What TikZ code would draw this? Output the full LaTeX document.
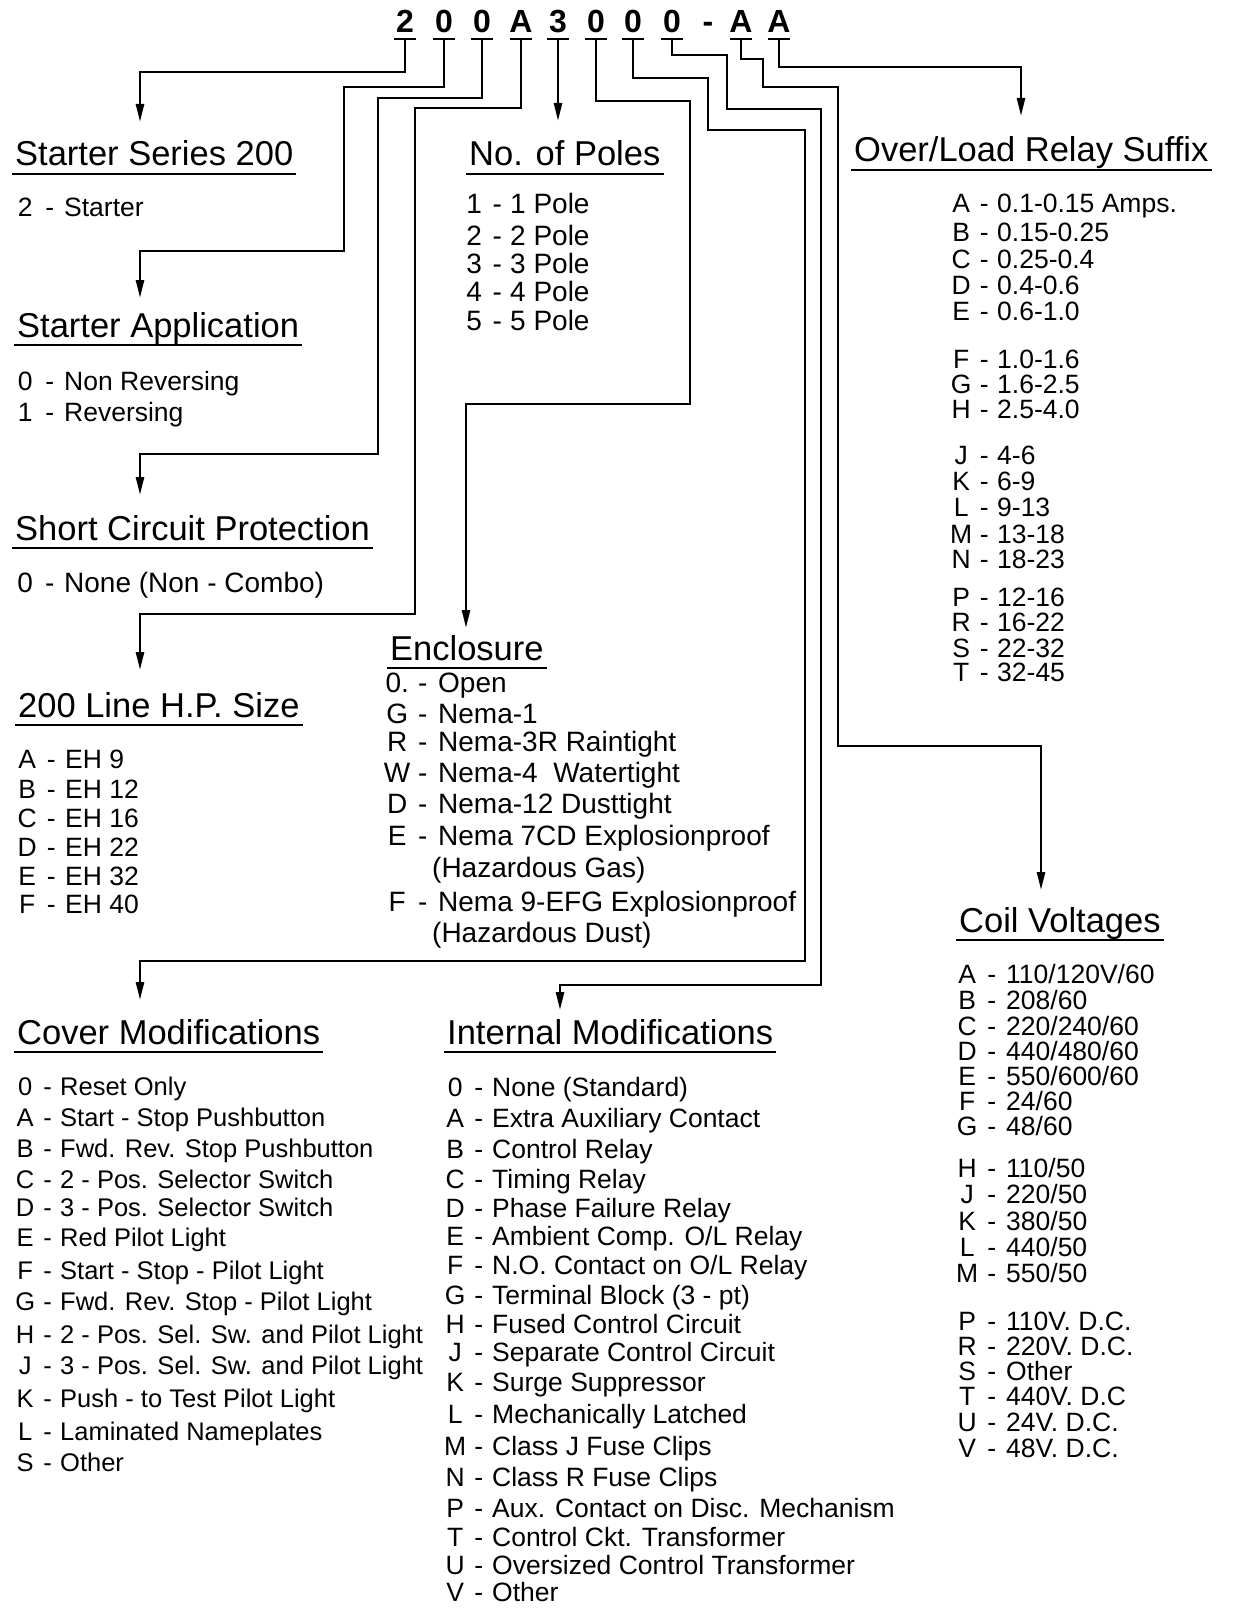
\documentclass[tikz,border=0pt]{standalone}
\usepackage{fontspec}
\setmainfont{Liberation Sans}
\usetikzlibrary{arrows.meta}
\newcommand\kv[3]{\makebox[20pt][c]{#1}\makebox[#2][c]{-}#3}
\newcommand\ttlline[1]{\draw[uline] ([shift={(-3,8)}]#1.base west) -- ([shift={(3,8)}]#1.base east);}
\tikzset{
 ttl/.style={anchor=base west,inner sep=0pt,font=\fontsize{34.5}{40}\selectfont},
 itm/.style={anchor=base west,inner sep=0pt,font=\fontsize{26.5}{30}\selectfont},
 itmc/.style={anchor=base west,inner sep=0pt,font=\fontsize{25.5}{30}\selectfont},
 itmv/.style={anchor=base west,inner sep=0pt,font=\fontsize{26.5}{30}\selectfont},
 itmw/.style={anchor=base west,inner sep=0pt,font=\fontsize{28}{30}\selectfont},
 codech/.style={anchor=base,inner sep=0pt,font=\fontsize{32}{34}\selectfont\bfseries},
 conn/.style={line width=2.5pt},
 arr/.style={conn,-{Triangle[length=18pt,width=8pt]}},
 uline/.style={line width=2.2pt},
 codebar/.style={line width=2.5pt}
}
\begin{document}
\begin{tikzpicture}[x=1pt,y=-1pt]
\fill[white] (0,0) rectangle (1233,1608);
\useasboundingbox (0,0) rectangle (1233,1608);

% ---------- code ----------
\node[codech] (c1) at (405,33) {2};
\node[codech] (c2) at (444,33) {0};
\node[codech] (c3) at (482,33) {0};
\node[codech] (c4) at (521,33) {A};
\node[codech] (c5) at (558,33) {3};
\node[codech] (c6) at (596,33) {0};
\node[codech] (c7) at (633,33) {0};
\node[codech] (c8) at (672,33) {0};
\node[codech] (c9) at (708,33) {-};
\node[codech] (c10) at (741,33) {A};
\node[codech] (c11) at (779,33) {A};
\coordinate (u1) at (405,39);
\coordinate (u2) at (444,39);
\coordinate (u3) at (482,39);
\coordinate (u4) at (521,39);
\coordinate (u5) at (558,39);
\coordinate (u6) at (596,39);
\coordinate (u7) at (633,39);
\coordinate (u8) at (672,39);
\coordinate (u10) at (741,39);
\coordinate (u11) at (779,39);
\foreach \n in {1,2,3,4,5,6,7,8,10,11}
  \draw[codebar] ([xshift=-11pt]u\n) -- ([xshift=11pt]u\n);

% ---------- titles ----------
\node[ttl] (tss) at (15,166) {Starter Series 200};
\node[ttl] (tsa) at (17,337) {Starter Application};
\node[ttl] (tsc) at (15,540) {Short Circuit Protection};
\node[ttl] (thp) at (18,717) {200 Line H.P. Size};
\node[ttl] (tnp) at (469,166) {No. of Poles};
\node[ttl] (tol) at (854,162) {Over/Load Relay Suffix};
\node[ttl] (ten) at (390,660) {Enclosure};
\node[ttl] (tcv) at (959,932) {Coil Voltages};
\node[ttl] (tcm) at (17,1044) {Cover Modifications};
\node[ttl] (tim) at (447,1044) {Internal Modifications};
\ttlline{tss}\ttlline{tsa}\ttlline{tsc}\ttlline{thp}\ttlline{tnp}
\ttlline{tol}\ttlline{ten}\ttlline{tcv}\ttlline{tcm}\ttlline{tim}

% ---------- items ----------
\node[itm] (ss1) at (15,216) {\kv{2}{29pt}{Starter}};

\node[itm] (sa1) at (15,390) {\kv{0}{29pt}{Non Reversing}};
\node[itm] (sa2) at (15,421) {\kv{1}{29pt}{Reversing}};

\node[itmw] (sc1) at (15,592) {\kv{0}{29pt}{None (Non - Combo)}};

\node[itm] (hp1) at (17,768) {\kv{A}{28pt}{EH 9}};
\node[itm] (hp2) at (17,798) {\kv{B}{28pt}{EH 12}};
\node[itm] (hp3) at (17,827) {\kv{C}{28pt}{EH 16}};
\node[itm] (hp4) at (17,856) {\kv{D}{28pt}{EH 22}};
\node[itm] (hp5) at (17,885) {\kv{E}{28pt}{EH 32}};
\node[itm] (hp6) at (17,913) {\kv{F}{28pt}{EH 40}};

\node[itmw] (np1) at (464,214) {\kv{1}{26pt}{1 Pole}};
\node[itmw] (np2) at (464,245) {\kv{2}{26pt}{2 Pole}};
\node[itmw] (np3) at (464,273) {\kv{3}{26pt}{3 Pole}};
\node[itmw] (np4) at (464,301) {\kv{4}{26pt}{4 Pole}};
\node[itmw] (np5) at (464,330) {\kv{5}{26pt}{5 Pole}};

\node[itm] (ol1) at (951,212) {\kv{A}{26pt}{0.1-0.15 Amps.}};
\node[itm] (ol2) at (951,241) {\kv{B}{26pt}{0.15-0.25}};
\node[itm] (ol3) at (951,268) {\kv{C}{26pt}{0.25-0.4}};
\node[itm] (ol4) at (951,294) {\kv{D}{26pt}{0.4-0.6}};
\node[itm] (ol5) at (951,320) {\kv{E}{26pt}{0.6-1.0}};
\node[itm] (ol6) at (951,368) {\kv{F}{26pt}{1.0-1.6}};
\node[itm] (ol7) at (951,393) {\kv{G}{26pt}{1.6-2.5}};
\node[itm] (ol8) at (951,418) {\kv{H}{26pt}{2.5-4.0}};
\node[itm] (ol9) at (951,464) {\kv{J}{26pt}{4-6}};
\node[itm] (ol10) at (951,490) {\kv{K}{26pt}{6-9}};
\node[itm] (ol11) at (951,516) {\kv{L}{26pt}{9-13}};
\node[itm] (ol12) at (951,543) {\kv{M}{26pt}{13-18}};
\node[itm] (ol13) at (951,568) {\kv{N}{26pt}{18-23}};
\node[itm] (ol14) at (951,606) {\kv{P}{26pt}{12-16}};
\node[itm] (ol15) at (951,631) {\kv{R}{26pt}{16-22}};
\node[itm] (ol16) at (951,657) {\kv{S}{26pt}{22-32}};
\node[itm] (ol17) at (951,681) {\kv{T}{26pt}{32-45}};

\node[itmw] (en1) at (387,692) {\kv{0.}{31pt}{Open}};
\node[itmw] (en2) at (387,723) {\kv{G}{31pt}{Nema-1}};
\node[itmw] (en3) at (387,751) {\kv{R}{31pt}{Nema-3R Raintight}};
\node[itmw] (en4) at (387,782) {\kv{W}{31pt}{Nema-4\ \ Watertight}};
\node[itmw] (en5) at (387,813) {\kv{D}{31pt}{Nema-12 Dusttight}};
\node[itmw] (en6) at (387,845) {\kv{E}{31pt}{Nema 7CD Explosionproof}};
\node[itmw] (en7) at (432,877) {(Hazardous Gas)};
\node[itmw] (en8) at (387,911) {\kv{F}{31pt}{Nema 9-EFG Explosionproof}};
\node[itmw] (en9) at (432,942) {(Hazardous Dust)};

\node[itmv] (cv1) at (957,983) {\kv{A}{29pt}{110/120V/60}};
\node[itmv] (cv2) at (957,1009) {\kv{B}{29pt}{208/60}};
\node[itmv] (cv3) at (957,1035) {\kv{C}{29pt}{220/240/60}};
\node[itmv] (cv4) at (957,1060) {\kv{D}{29pt}{440/480/60}};
\node[itmv] (cv5) at (957,1085) {\kv{E}{29pt}{550/600/60}};
\node[itmv] (cv6) at (957,1110) {\kv{F}{29pt}{24/60}};
\node[itmv] (cv7) at (957,1135) {\kv{G}{29pt}{48/60}};
\node[itmv] (cv8) at (957,1177) {\kv{H}{29pt}{110/50}};
\node[itmv] (cv9) at (957,1203) {\kv{J}{29pt}{220/50}};
\node[itmv] (cv10) at (957,1230) {\kv{K}{29pt}{380/50}};
\node[itmv] (cv11) at (957,1256) {\kv{L}{29pt}{440/50}};
\node[itmv] (cv12) at (957,1282) {\kv{M}{29pt}{550/50}};
\node[itmv] (cv13) at (957,1330) {\kv{P}{29pt}{110V. D.C.}};
\node[itmv] (cv14) at (957,1355) {\kv{R}{29pt}{220V. D.C.}};
\node[itmv] (cv15) at (957,1380) {\kv{S}{29pt}{Other}};
\node[itmv] (cv16) at (957,1405) {\kv{T}{29pt}{440V. D.C}};
\node[itmv] (cv17) at (957,1431) {\kv{U}{29pt}{24V. D.C.}};
\node[itmv] (cv18) at (957,1457) {\kv{V}{29pt}{48V. D.C.}};

\node[itmc] (cm1) at (15,1095) {\kv{0}{25pt}{Reset Only}};
\node[itmc] (cm2) at (15,1126) {\kv{A}{25pt}{Start - Stop Pushbutton}};
\node[itmc] (cm3) at (15,1157) {\kv{B}{25pt}{Fwd. Rev. Stop Pushbutton}};
\node[itmc] (cm4) at (15,1188) {\kv{C}{25pt}{2 - Pos. Selector Switch}};
\node[itmc] (cm5) at (15,1216) {\kv{D}{25pt}{3 - Pos. Selector Switch}};
\node[itmc] (cm6) at (15,1246) {\kv{E}{25pt}{Red Pilot Light}};
\node[itmc] (cm7) at (15,1279) {\kv{F}{25pt}{Start - Stop - Pilot Light}};
\node[itmc] (cm8) at (15,1310) {\kv{G}{25pt}{Fwd. Rev. Stop - Pilot Light}};
\node[itmc] (cm9) at (15,1343) {\kv{H}{25pt}{2 - Pos. Sel. Sw. and Pilot Light}};
\node[itmc] (cm10) at (15,1374) {\kv{J}{25pt}{3 - Pos. Sel. Sw. and Pilot Light}};
\node[itmc] (cm11) at (15,1407) {\kv{K}{25pt}{Push - to Test Pilot Light}};
\node[itmc] (cm12) at (15,1440) {\kv{L}{25pt}{Laminated Nameplates}};
\node[itmc] (cm13) at (15,1471) {\kv{S}{25pt}{Other}};

\node[itm] (im1) at (445,1096) {\kv{0}{27pt}{None (Standard)}};
\node[itm] (im2) at (445,1127) {\kv{A}{27pt}{Extra Auxiliary Contact}};
\node[itm] (im3) at (445,1158) {\kv{B}{27pt}{Control Relay}};
\node[itm] (im4) at (445,1188) {\kv{C}{27pt}{Timing Relay}};
\node[itm] (im5) at (445,1217) {\kv{D}{27pt}{Phase Failure Relay}};
\node[itm] (im6) at (445,1245) {\kv{E}{27pt}{Ambient Comp. O/L Relay}};
\node[itm] (im7) at (445,1274) {\kv{F}{27pt}{N.O. Contact on O/L Relay}};
\node[itm] (im8) at (445,1304) {\kv{G}{27pt}{Terminal Block (3 - pt)}};
\node[itm] (im9) at (445,1333) {\kv{H}{27pt}{Fused Control Circuit}};
\node[itm] (im10) at (445,1361) {\kv{J}{27pt}{Separate Control Circuit}};
\node[itm] (im11) at (445,1391) {\kv{K}{27pt}{Surge Suppressor}};
\node[itm] (im12) at (445,1423) {\kv{L}{27pt}{Mechanically Latched}};
\node[itm] (im13) at (445,1455) {\kv{M}{27pt}{Class J Fuse Clips}};
\node[itm] (im14) at (445,1486) {\kv{N}{27pt}{Class R Fuse Clips}};
\node[itm] (im15) at (445,1517) {\kv{P}{27pt}{Aux. Contact on Disc. Mechanism}};
\node[itm] (im16) at (445,1546) {\kv{T}{27pt}{Control Ckt. Transformer}};
\node[itm] (im17) at (445,1574) {\kv{U}{27pt}{Oversized Control Transformer}};
\node[itm] (im18) at (445,1601) {\kv{V}{27pt}{Other}};

% ---------- arrow tips ----------
\coordinate (k1) at (140,122);
\coordinate (k2) at (140,298);
\coordinate (k3) at (140,495);
\coordinate (k4) at (140,670);
\coordinate (k5) at (558,121);
\coordinate (k6) at (466,628);
\coordinate (k7) at (140,1000);
\coordinate (k8) at (560,1010);
\coordinate (k10) at (1041,890);
\coordinate (k11) at (1021,116);

% ---------- connectors ----------
\draw[arr] (u1) -- (405,72) -- (140,72) -- (k1);
\draw[arr] (u2) -- (444,87) -- (344,87) -- (344,251) -- (140,251) -- (k2);
\draw[arr] (u3) -- (482,98) -- (378,98) -- (378,454) -- (140,454) -- (k3);
\draw[arr] (u4) -- (521,108) -- (415,108) -- (415,614) -- (140,614) -- (k4);
\draw[arr] (u5) -- (k5);
\draw[arr] (u6) -- (596,101) -- (690,101) -- (690,404) -- (466,404) -- (k6);
\draw[arr] (u7) -- (633,78) -- (708,78) -- (708,130) -- (805,130) -- (805,961) -- (140,961) -- (k7);
\draw[arr] (u8) -- (672,55) -- (727,55) -- (727,109) -- (821,109) -- (821,985) -- (560,985) -- (k8);
\draw[arr] (u10) -- (741,59) -- (763,59) -- (763,87) -- (838,87) -- (838,746) -- (1041,746) -- (k10);
\draw[arr] (u11) -- (779,67) -- (1021,67) -- (k11);
\end{tikzpicture}
\end{document}
